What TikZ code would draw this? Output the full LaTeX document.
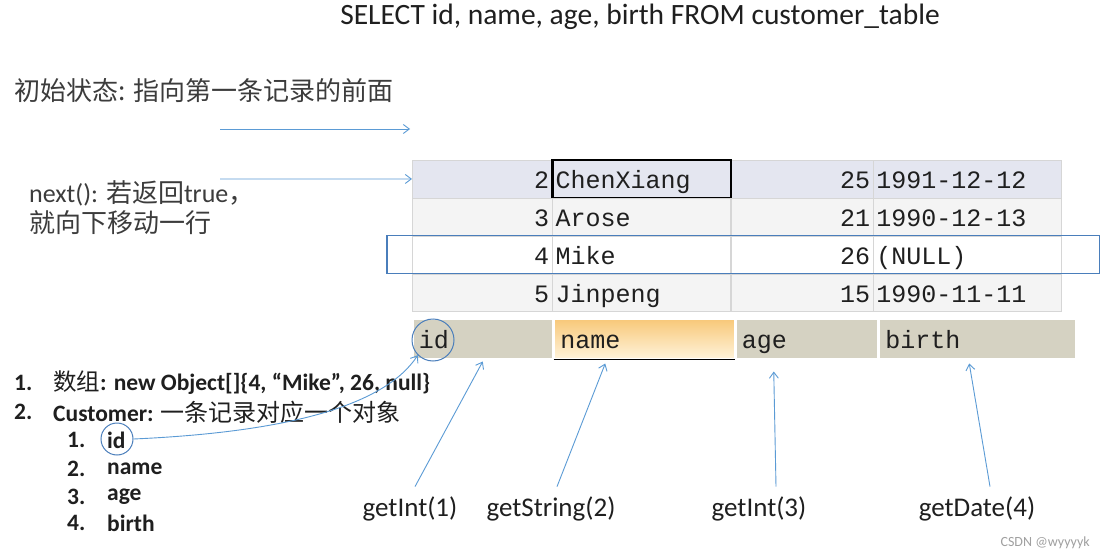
\documentclass[tikz,border=0pt]{standalone}
\usepackage{fontspec}
\setmainfont{Carlito}
\setmonofont{Liberation Mono}
\newfontfamily\cjk{Noto Sans CJK SC}
\usetikzlibrary{arrows.meta,positioning,calc}
\definecolor{Ink}{HTML}{1F1F1F}
\definecolor{Note}{HTML}{3C3C3C}
\definecolor{Pointer}{HTML}{5B9BD5}
\definecolor{Mark}{HTML}{4A7EBB}
\definecolor{RowSel}{HTML}{E4E6F0}
\definecolor{RowBg}{HTML}{F4F4F4}
\definecolor{Grid}{HTML}{D6D6D6}
\definecolor{HeadBg}{HTML}{D5D2C2}
\definecolor{HeadTop}{HTML}{F8C878}
\definecolor{HeadBot}{HTML}{FFF3DA}
\definecolor{Stamp}{HTML}{A0A0A0}
\newcommand{\zh}[1]{{\cjk\mdseries #1}}

\begin{document}
\begin{tikzpicture}[
  x=1pt,y=-1pt,
  every node/.style={inner sep=0pt,text=Ink},
  cell/.style={draw=Grid,fill=RowBg,anchor=north west,minimum height=37.5pt,inner xsep=3pt,text height=25pt,text depth=5pt,font=\fontsize{25}{25}\selectfont\ttfamily},
  idcell/.style={cell,text width=134pt,align=right},
  namecell/.style={cell,text width=172pt,align=left},
  agecell/.style={cell,text width=136pt,align=right},
  birthcell/.style={cell,text width=182pt,align=left},
  head/.style={draw=white,line width=1.5pt,fill=HeadBg,anchor=north west,minimum height=40pt,inner xsep=6pt,text height=25pt,text depth=5pt,align=left,font=\fontsize{25}{25}\selectfont\ttfamily},
  note/.style={text=Note,align=left,font=\fontsize{26}{30}\selectfont},
  item/.style={anchor=west,font=\fontsize{23.5}{23.5}\selectfont\bfseries},
  lbl/.style={font=\fontsize{27}{27}\selectfont},
  ring/.style={circle,draw=Mark,line width=1pt},
  ptr/.style={-{Straight Barb[length=6pt,width=9pt]},line width=0.9pt,color=Pointer}
]
\fill[white] (0,0) rectangle (1100,559);
\useasboundingbox (0,0) rectangle (1100,559);
\node[font=\fontsize{29.5}{29.5}\selectfont] (query) at (640,17) {SELECT id, name, age, birth FROM customer\_table};
\node[note,anchor=west] (initial) at (14,91) {\zh{初始状态: 指向第一条记录的前面}};
\node[note,anchor=west] (advance) at (29,208) {next(): \zh{若返回}true\zh{，}\\\zh{就向下移动一行}};
% result rows
\node[idcell,fill=RowSel] (r1id) at (412,160) {2};
\node[namecell,fill=RowSel,right=0pt of r1id] (r1name) {ChenXiang};
\node[agecell,fill=RowSel,right=0pt of r1name] (r1age) {25};
\node[birthcell,fill=RowSel,right=0pt of r1age] (r1birth) {1991-12-12};
\draw[line width=2.5pt] (r1name.north west) rectangle (r1name.south east);
\node[idcell,below=0pt of r1id] (r2id) {3};
\node[namecell,right=0pt of r2id] (r2name) {Arose};
\node[agecell,right=0pt of r2name] (r2age) {21};
\node[birthcell,right=0pt of r2age] (r2birth) {1990-12-13};
\node[idcell,fill=white,below=0pt of r2id] (r3id) {4};
\node[namecell,fill=white,right=0pt of r3id] (r3name) {Mike};
\node[agecell,fill=white,right=0pt of r3name] (r3age) {26};
\node[birthcell,fill=white,right=0pt of r3age] (r3birth) {(NULL)};
\node[idcell,below=0pt of r3id] (r4id) {5};
\node[namecell,right=0pt of r4id] (r4name) {Jinpeng};
\node[agecell,right=0pt of r4name] (r4age) {15};
\node[birthcell,right=0pt of r4age] (r4birth) {1990-11-11};
% column header
\node[head,text width=128pt] (hid) at (412,318) {id};
\node[head,text width=168pt,top color=HeadTop,bottom color=HeadBot,right=0pt of hid] (hname) {name};
\node[head,text width=130pt,right=0pt of hname] (hage) {age};
\node[head,text width=184pt,right=0pt of hage] (hbirth) {birth};
\draw[line width=1.5pt] (hname.south west) -- (hname.south east);
\node[ring,minimum width=42pt,minimum height=40pt] (hidring) at (433,340) {};
% mapping list
\node[item] (n1) at (14,383) {1.};
\node[item] (t1) at (53,383) {\zh{数组}: new Object[]\{4, “Mike”, 26, null\}};
\node[item] (n2) at (14,412) {2.};
\node[item] (t2) at (53,412) {Customer: \zh{\fontsize{24}{24}\selectfont 一条记录对应一个对象}};
\node[item] (s1) at (67,440) {1.};
\node[item] (f1) at (107,440) {id};
\node[item] (s2) at (67,469) {2.};
\node[item] (f2) at (107,469) {name};
\node[item] (s3) at (67,497) {3.};
\node[item] (f3) at (107,497) {age};
\node[item] (s4) at (67,523) {4.};
\node[item] (f4) at (107,523) {birth};
\node[ring,minimum size=32pt] (idring) at (117,439) {};
% getters
\node[lbl] (g1) at (410,509) {getInt(1)};
\node[lbl] (g2) at (551,509) {getString(2)};
\node[lbl] (g3) at (759,509) {getInt(3)};
\node[lbl] (g4) at (977,509) {getDate(4)};
\node[font=\fontsize{14}{14}\selectfont,text=Stamp,anchor=east] (stamp) at (1090,543) {CSDN @wyyyyk};
\coordinate (before0) at (220,129);
\coordinate (before1) at (410,129);
\coordinate (nextfrom) at (220,179);
\draw[ptr] (before0) -- (before1);
\draw[ptr] (nextfrom) -- (r1id.west);
\draw[ptr] (idring.east) .. controls (290,432) and (385,405) .. (hidring.225);
\draw[ptr] ([xshift=5pt,yshift=10pt]g1.north) -- ([yshift=-2pt]hid.south);
\draw[ptr] ([xshift=6pt,yshift=10pt]g2.north) -- ([xshift=-39pt,yshift=-4pt]hname.south);
\draw[ptr] ([xshift=17pt,yshift=10pt]g3.north) -- ([xshift=-33pt,yshift=-12pt]hage.south);
\draw[ptr] ([xshift=13pt,yshift=10pt]g4.north) -- ([xshift=-8pt,yshift=-4pt]hbirth.south);
% current row
\draw[draw=Mark,line width=1.2pt] ([xshift=-25pt]r3id.north west) rectangle ([xshift=38pt]r3birth.south east);
\end{tikzpicture}
\end{document}
